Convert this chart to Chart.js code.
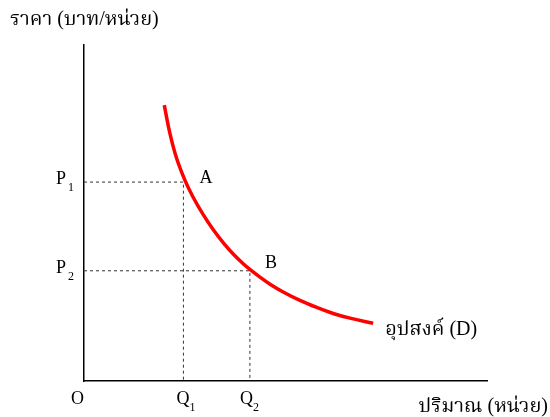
<!DOCTYPE html>
<html>
<head>
<meta charset="utf-8">
<script src="https://cdn.jsdelivr.net/npm/chart.js@4"></script>
<style>
  html, body { margin: 0; padding: 0; background: #fff; }
  #wrap { width: 550px; height: 417px; }
</style>
</head>
<body>
<div id="wrap"><canvas id="demand"></canvas></div>
<script>
// demand curve, read in axis units (quantity 0-12, price 0-10)
const curveQ = [2.39, 2.56, 2.76, 3.02, 3.25, 3.55, 3.85, 4.15, 4.45, 4.74, 4.94, 5.24, 5.54, 5.93, 6.43, 6.93, 7.42, 7.92, 8.61]
const curveP = [8.21, 7.36, 6.62, 5.94, 5.47, 4.95, 4.50, 4.11, 3.77, 3.49, 3.32, 3.09, 2.88, 2.65, 2.40, 2.19, 2.01, 1.87, 1.72]

// the two marked points
const qMarks = [2.96, 4.94]
const pMarks = [5.92, 3.28]
const pointNames = ["A", "B"]
const qNames = ["Q", "Q"]
const pNames = ["P", "P"]
const subs = ["1", "2"]

const yTitle = "ราคา (บาท/หน่วย)"
const xTitle = "ปริมาณ (หน่วย)"
const curveName = "อุปสงค์ (D)"

const serif = "'Liberation Serif', 'Noto Serif Thai', 'Times New Roman', serif"

function guide(i){
  return {
    data: [{x: 0, y: pMarks[i]}, {x: qMarks[i], y: pMarks[i]}, {x: qMarks[i], y: 0}],
    showLine: true,
    borderColor: "#333",
    borderWidth: 1,
    borderDash: [3, 3],
    pointRadius: 0,
    tension: 0
  }
}

const labels = {
  id: "labels",
  afterDraw(chart){
    const c = chart.ctx
    const xs = chart.scales.x, ys = chart.scales.y
    const a = chart.chartArea
    c.save()
    c.fillStyle = "#000"
    c.textBaseline = "alphabetic"

    // axis titles
    c.font = "20px " + serif
    c.textAlign = "left"
    c.fillText(yTitle, 10, 25)
    c.textAlign = "right"
    c.fillText(xTitle, 548, 412)

    // curve name at the end of the line
    c.textAlign = "left"
    const last = curveQ.length - 1
    c.fillText(curveName, xs.getPixelForValue(curveQ[last]) + 12, ys.getPixelForValue(curveP[last]) + 12)

    c.font = "18px " + serif
    c.fillText("O", 71, 404)

    for (let i = 0; i < qMarks.length; i++){
      const px = xs.getPixelForValue(qMarks[i])
      const py = ys.getPixelForValue(pMarks[i])

      // P labels left of the axis
      c.font = "18px " + serif
      c.fillText(pNames[i], a.left - 28, py + 2)
      c.font = "12px " + serif
      c.fillText(subs[i], a.left - 16, py + 9)

      // Q labels under the axis
      const qx = px + (i ? -10 : -7)
      c.font = "18px " + serif
      c.fillText(qNames[i], qx, a.bottom + 23)
      c.font = "12px " + serif
      c.fillText(subs[i], qx + 13, a.bottom + 30)

      // point names
      c.font = "18px " + serif
      c.fillText(pointNames[i], px + (i ? 15 : 16), py + (i ? -3 : 1))
    }
    c.restore()
  }
}

new Chart(document.getElementById("demand"), {
  type: "scatter",
  data: {
    datasets: [
      {
        data: curveQ.map((q, i) => ({x: q, y: curveP[i]})),
        showLine: true,
        borderColor: "#ff0000",
        borderWidth: 3.5,
        pointRadius: 0,
        tension: 0.4
      },
      guide(0),
      guide(1)
    ]
  },
  options: {
    responsive: true,
    maintainAspectRatio: false,
    animation: false,
    layout: { padding: { left: 76, right: 63, top: 45, bottom: 28 } },
    plugins: { legend: { display: false }, tooltip: { enabled: false } },
    scales: {
      x: {
        type: "linear", min: 0, max: 12,
        grid: { display: false },
        ticks: { display: false },
        border: { display: true, color: "#000", width: 1.5 }
      },
      y: {
        type: "linear", min: 0, max: 10,
        grid: { display: false },
        ticks: { display: false },
        border: { display: true, color: "#000", width: 1.5 }
      }
    }
  },
  plugins: [labels]
})
</script>
</body>
</html>
